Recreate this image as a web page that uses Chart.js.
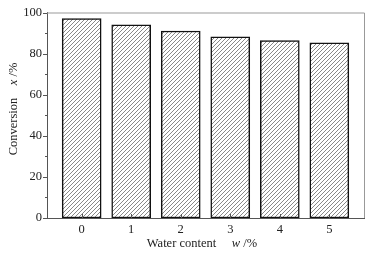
<!DOCTYPE html>
<html>
<head>
<meta charset="utf-8">
<script src="https://cdn.jsdelivr.net/npm/chart.js@4.4.1/dist/chart.umd.min.js"></script>
<style>
  html, body { margin: 0; padding: 0; background: #fff; }
  #wrap { width: 379px; height: 256px; }
</style>
</head>
<body>
<div id="wrap"><canvas id="conversionChart"></canvas></div>
<script>
const waterContent = [0, 1, 2, 3, 4, 5];
const conversion = [97, 94, 91, 88.2, 86.3, 85.2];
const yTicks = [0, 20, 40, 60, 80, 100];

const FONT = "'Liberation Serif', 'Times New Roman', serif";

// diagonal hatch fill
function makeHatch() {
  const s = 4;
  const c = document.createElement("canvas");
  c.width = s; c.height = s;
  const g = c.getContext("2d");
  g.fillStyle = "#fff";
  g.fillRect(0, 0, s, s);
  g.strokeStyle = "#7a7a7a";
  g.lineWidth = 0.9;
  g.beginPath();
  g.moveTo(-1, s + 1); g.lineTo(s + 1, -1);
  g.moveTo(-1, 1); g.lineTo(1, -1);
  g.moveTo(s - 1, s + 1); g.lineTo(s + 1, s - 1);
  g.stroke();
  return g.createPattern(c, "repeat");
}

// frame, tick marks (y outward with minors, x inward) and axis titles
const decor = {
  id: "decor",
  afterDraw(chart) {
    const { ctx, chartArea: a, scales } = chart;
    const x = scales.x, y = scales.y;
    ctx.save();
    ctx.strokeStyle = "#999";
    ctx.lineWidth = 1;
    ctx.beginPath();
    ctx.moveTo(a.left, a.top + 0.5); ctx.lineTo(a.right + 0.5, a.top + 0.5);
    ctx.lineTo(a.right + 0.5, a.bottom);
    ctx.stroke();

    ctx.strokeStyle = "#555";
    ctx.beginPath();
    for (let v = 0; v <= 100; v += 10) {
      const py = Math.round(y.getPixelForValue(v)) + 0.5;
      const len = v % 20 === 0 ? 4 : 2;
      ctx.moveTo(a.left - len, py); ctx.lineTo(a.left, py);
    }
    waterContent.forEach(v => {
      const px = Math.round(x.getPixelForValue(v)) + 0.5;
      ctx.moveTo(px, a.bottom); ctx.lineTo(px, a.bottom - 4);
    });
    ctx.stroke();

    ctx.fillStyle = "#222";
    ctx.textBaseline = "middle";
    const drawParts = (parts, cx, cy, rot) => {
      ctx.save();
      ctx.translate(cx, cy);
      if (rot) ctx.rotate(-Math.PI / 2);
      let total = 0;
      parts.forEach(p => {
        ctx.font = (p.it ? "italic " : "") + "12.5px " + FONT;
        p.w = ctx.measureText(p.t).width;
        total += p.w;
      });
      let cur = -total / 2;
      ctx.textAlign = "left";
      parts.forEach(p => {
        ctx.font = (p.it ? "italic " : "") + "12.5px " + FONT;
        ctx.fillText(p.t, cur, 0);
        cur += p.w;
      });
      ctx.restore();
    };
    drawParts([{ t: "Water content" }, { t: "     " }, { t: "w", it: true }, { t: " /%" }], 202, 244, false);
    drawParts([{ t: "Conversion" }, { t: "    " }, { t: "x", it: true }, { t: " /%" }], 14, 109, true);
    ctx.restore();
  }
};

new Chart(document.getElementById("conversionChart"), {
  type: "bar",
  data: {
    datasets: [
      {
        data: waterContent.map((w, i) => ({ x: w, y: conversion[i] })),
        backgroundColor: makeHatch(),
        borderColor: "#111",
        borderWidth: 1.5,
        borderSkipped: false,
        barThickness: 39,
      },
    ],
  },
  options: {
    responsive: true,
    maintainAspectRatio: false,
    animation: false,
    layout: { padding: { left: 0, right: 15, top: 10, bottom: 0 } },
    plugins: { legend: { display: false }, tooltip: { enabled: false } },
    scales: {
      x: {
        type: "linear",
        offset: false,
        min: -0.7,
        max: 5.7,
        afterBuildTicks: s => { s.ticks = waterContent.map(v => ({ value: v })); },
        afterFit: s => { s.height = 38; },
        grid: { display: false, drawTicks: false, offset: false },
        border: { color: "#555", width: 1 },
        ticks: { padding: 4, color: "#222", font: { family: FONT, size: 12.5 } },
      },
      y: {
        min: 0,
        max: 100,
        afterBuildTicks: s => { s.ticks = yTicks.map(v => ({ value: v })); },
        afterFit: s => { s.width = 47; },
        grid: { display: false, drawTicks: false },
        border: { color: "#555", width: 1 },
        ticks: { padding: 5, color: "#222", font: { family: FONT, size: 12.5 } },
      },
    },
  },
  plugins: [decor],
});
</script>
</body>
</html>
